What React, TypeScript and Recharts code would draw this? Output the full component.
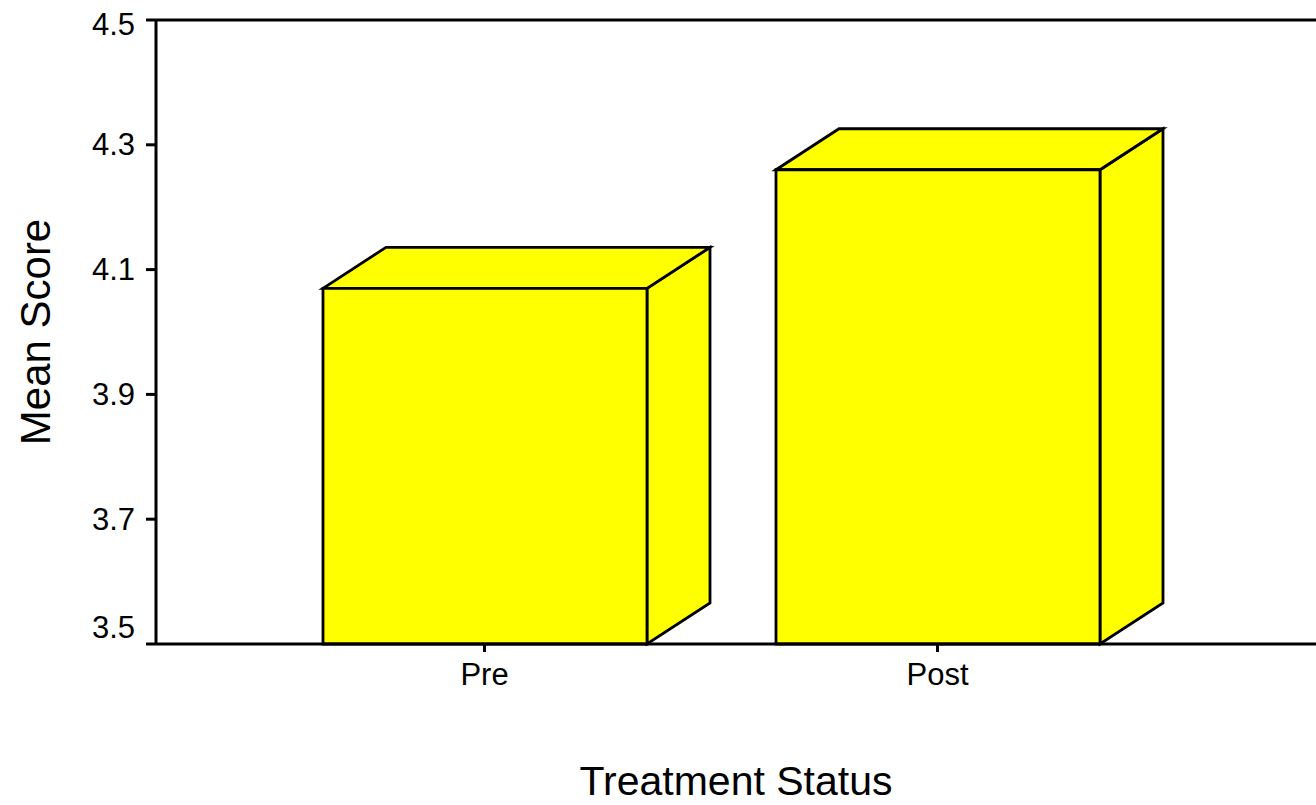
import React from 'react';
import { BarChart, Bar, XAxis, YAxis, ReferenceLine } from 'recharts';

const categories = ['Pre', 'Post'];
const meanScores = [4.07, 4.26];
const yTicks = [3.5, 3.7, 3.9, 4.1, 4.3, 4.5];
const xTitle = 'Treatment Status';
const yTitle = 'Mean Score';

const data = categories.map((c, i) => ({ category: c, score: meanScores[i] }));

const FONT = 'Liberation Sans, Arial, Helvetica, sans-serif';
const DX = 63;
const DY = 41;
const SW = 2.8;

const Box3D = (props: any) => {
  const { x, y, width, height } = props;
  const r = x + width;
  const b = y + height;
  const front = `M${x},${y} L${r},${y} L${r},${b} L${x},${b} Z`;
  const top = `M${x},${y} L${x + DX},${y - DY} L${r + DX},${y - DY} L${r},${y} Z`;
  const side = `M${r},${y} L${r + DX},${y - DY} L${r + DX},${b - DY} L${r},${b} Z`;
  return (
    <g>
      <path d={side} fill="#FFFF00" stroke="#000" strokeWidth={SW} strokeLinejoin="miter" />
      <path d={top} fill="#FFFF00" stroke="#000" strokeWidth={SW} strokeLinejoin="miter" />
      <path d={front} fill="#FFFF00" stroke="#000" strokeWidth={SW} strokeLinejoin="miter" />
    </g>
  );
};

const YTick = (props: any) => {
  const { x, y, payload, index } = props;
  let shift = 0;
  if (index === 0) shift = -17;
  if (index === yTicks.length - 1) shift = 4;
  return (
    <text x={x} y={y + shift} textAnchor="end" dominantBaseline="central" fontFamily={FONT} fontSize={31} fill="#000">
      {payload.value.toFixed(1)}
    </text>
  );
};

const XTick = (props: any) => {
  const { x, y, payload } = props;
  return (
    <text x={x} y={y} dy="0.71em" textAnchor="middle" fontFamily={FONT} fontSize={31} fill="#000">
      {payload.value}
    </text>
  );
};

const XTitle = (props: any) => {
  const vb = props.viewBox;
  return (
    <text x={vb.x + vb.width / 2} y={vb.y + 151} textAnchor="middle" fontFamily={FONT} fontSize={41} fill="#000">
      {xTitle}
    </text>
  );
};

const YTitle = (props: any) => {
  const vb = props.viewBox;
  const cx = vb.x + 35;
  const cy = vb.y + vb.height / 2;
  return (
    <text
      x={cx}
      y={cy}
      transform={`rotate(-90, ${cx}, ${cy})`}
      textAnchor="middle"
      dominantBaseline="central"
      fontFamily={FONT}
      fontSize={42}
      fill="#000"
    >
      {yTitle}
    </text>
  );
};

export default function App() {
  return (
    <div style={{ position: 'absolute', left: 0, top: 0, width: 1316, height: 805, background: '#fff' }}>
      <BarChart
        width={1316}
        height={805}
        data={data}
        margin={{ top: 20, right: 0, bottom: 0, left: 0 }}
        barSize={324}
      >
        <XAxis
          dataKey="category"
          height={161}
          padding={{ left: 102, right: 152 }}
          axisLine={{ stroke: '#000', strokeWidth: 3 }}
          tickLine={{ stroke: '#000', strokeWidth: 3 }}
          tickSize={8}
          tickMargin={11}
          tick={<XTick />}
          label={<XTitle />}
        />
        <YAxis
          width={156}
          domain={[3.5, 4.5]}
          ticks={yTicks}
          interval={0}
          axisLine={{ stroke: '#000', strokeWidth: 3 }}
          tickLine={{ stroke: '#000', strokeWidth: 3 }}
          tickSize={10}
          tickMargin={11}
          tick={<YTick />}
          label={<YTitle />}
        />
        <ReferenceLine y={4.5} stroke="#000" strokeWidth={3} ifOverflow="visible" />
        <Bar dataKey="score" isAnimationActive={false} shape={<Box3D />} />
      </BarChart>
    </div>
  );
}
